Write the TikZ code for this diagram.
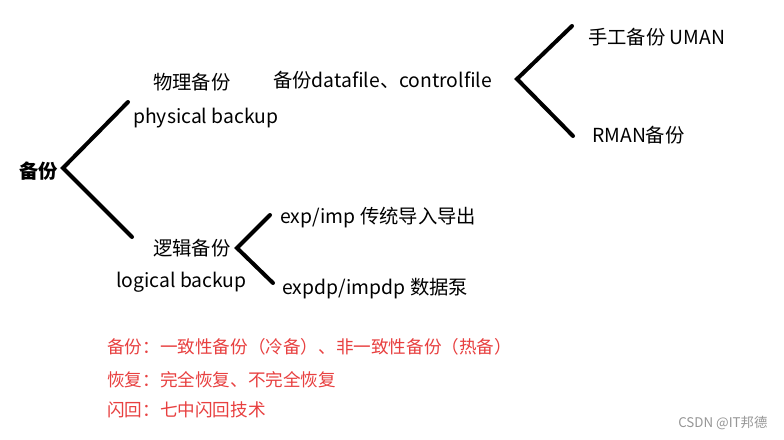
\documentclass[tikz,border=0pt]{standalone}
\usepackage{fontspec}
\setmainfont{Noto Sans CJK SC}
\definecolor{notered}{RGB}{232,64,64}
\definecolor{wmgray}{RGB}{150,150,150}
\begin{document}
\begin{tikzpicture}[x=0.75pt,y=-0.75pt,
  lbl/.style={anchor=west,inner sep=0pt,font=\fontsize{14.5}{17}\selectfont,text=black},
  rlbl/.style={anchor=west,inner sep=0pt,font=\fontsize{13.2}{15}\selectfont,text=notered},
  brk/.style={line width=3pt,line cap=round,line join=miter}]
\useasboundingbox[fill=white] (0,0) rectangle (784,439);
% root
\node[anchor=west,inner sep=0pt,font=\fontsize{14.5}{17}\selectfont\bfseries] (root) at (19,171) {备份};
% main bracket
\coordinate (v0) at (63,168);
\coordinate (u0) at (128,102);
\coordinate (d0) at (132,237);
\draw[brk] (u0) -- (v0) -- (d0);
% physical
\node[lbl] (phy) at (153,82) {物理备份};
\node[lbl] (phyen) at (133,118) {physical backup};
\node[lbl] (dcf) at (273,80) {备份datafile、controlfile};
\coordinate (v1) at (517,79);
\coordinate (u1) at (572,26);
\coordinate (d1) at (573,136);
\draw[brk] (u1) -- (v1) -- (d1);
\node[lbl] (uman) at (588,37) {手工备份 UMAN};
\node[lbl] (rman) at (592,135) {RMAN备份};
% logical
\node[lbl] (log) at (153,248) {逻辑备份};
\node[lbl] (logen) at (116,282) {logical backup};
\coordinate (v2) at (237,248);
\coordinate (u2) at (270,215);
\coordinate (d2) at (273,283);
\draw[brk] (u2) -- (v2) -- (d2);
\node[lbl] (exp) at (280,218) {exp/imp 传统导入导出};
\node[lbl] (expdp) at (282,289) {expdp/impdp 数据泵};
% red notes
\node[rlbl] (n1) at (107,347) {备份：一致性备份（冷备）、非一致性备份（热备）};
\node[rlbl] (n2) at (107,380) {恢复：完全恢复、不完全恢复};
\node[rlbl] (n3) at (107,410) {闪回：七中闪回技术};
% watermark
\node[anchor=west,inner sep=0pt,font=\fontsize{10}{12}\selectfont,text=wmgray] (wm) at (678,423) {CSDN @IT邦德};
\end{tikzpicture}
\end{document}
